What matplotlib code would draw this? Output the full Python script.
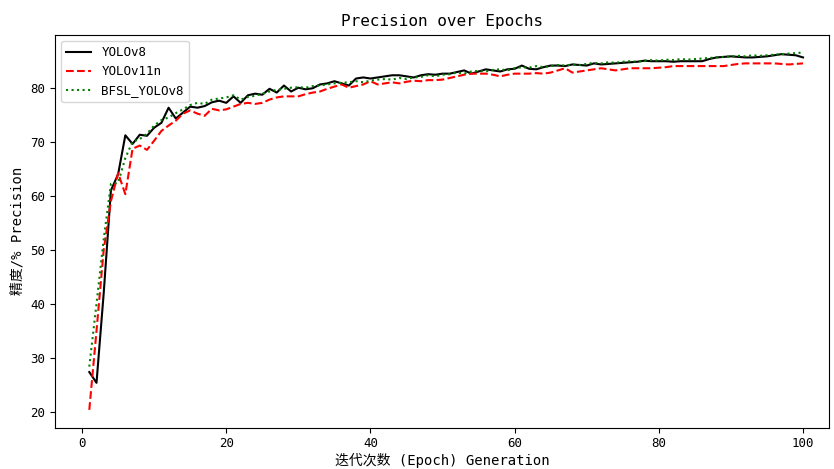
import matplotlib
matplotlib.use("Agg")
import matplotlib.pyplot as plt

epochs = list(range(1, 101))

yolov8 = [
    27.4, 25.4, 42.0, 61.0, 64.0, 71.2, 69.6, 71.3, 71.1, 72.6,
    73.5, 76.3, 74.3, 75.4, 76.5, 76.3, 76.6, 77.3, 77.6, 77.2,
    78.4, 77.2, 78.6, 78.9, 78.7, 79.8, 79.1, 80.4, 79.3, 80.0,
    79.7, 79.9, 80.6, 80.8, 81.2, 80.8, 80.4, 81.7, 81.9, 81.7,
    81.9, 82.1, 82.3, 82.3, 82.1, 81.9, 82.3, 82.5, 82.4, 82.6,
    82.6, 82.9, 83.2, 82.6, 83.0, 83.4, 83.2, 83.0, 83.4, 83.5,
    84.1, 83.5, 83.4, 83.8, 84.1, 84.1, 84.0, 84.3, 84.2, 84.1,
    84.5, 84.3, 84.4, 84.5, 84.6, 84.7, 84.8, 85.0, 84.9, 84.9,
    84.9, 84.8, 84.9, 84.9, 84.9, 84.9, 85.3, 85.6, 85.7, 85.8,
    85.7, 85.6, 85.6, 85.7, 85.8, 86.0, 86.2, 86.1, 86.0, 85.6,
]

yolov11n = [
    20.4, 35.0, 50.0, 59.0, 64.2, 60.3, 68.7, 69.3, 68.5, 70.2,
    72.0, 73.0, 73.9, 75.2, 75.8, 75.2, 74.8, 76.1, 75.8, 76.0,
    76.5, 77.0, 77.2, 77.0, 77.2, 77.8, 78.2, 78.4, 78.4, 78.4,
    78.8, 79.1, 79.3, 79.8, 80.2, 80.6, 80.0, 80.3, 80.6, 81.2,
    80.6, 80.8, 81.0, 80.8, 81.1, 81.3, 81.2, 81.4, 81.4, 81.5,
    81.8, 82.1, 82.4, 82.6, 82.6, 82.6, 82.4, 82.1, 82.4, 82.6,
    82.6, 82.6, 82.7, 82.6, 82.8, 83.2, 83.6, 82.8, 83.0, 83.2,
    83.4, 83.6, 83.4, 83.2, 83.4, 83.6, 83.6, 83.6, 83.6, 83.7,
    83.8, 84.0, 84.0, 84.0, 84.0, 84.0, 84.0, 84.0, 84.0, 84.2,
    84.4, 84.5, 84.5, 84.5, 84.5, 84.5, 84.4, 84.3, 84.4, 84.5,
]

bfsl_yolov8 = [
    28.4, 40.0, 52.0, 62.2, 62.4, 67.0, 70.0, 70.5, 71.5, 73.0,
    74.0, 74.5, 75.3, 76.0, 76.8, 77.2, 77.0, 77.8, 78.0, 78.2,
    78.6, 77.8, 78.3, 78.5, 78.9, 79.3, 79.6, 79.8, 80.0, 80.1,
    80.0, 80.3, 80.4, 80.6, 80.8, 80.9, 81.0, 81.2, 81.0, 81.3,
    81.5, 81.6, 81.5, 81.8, 81.6, 81.9, 82.0, 82.3, 82.1, 82.4,
    82.5, 82.8, 82.6, 83.0, 83.1, 83.0, 83.3, 83.4, 83.2, 83.6,
    83.8, 83.7, 84.0, 83.8, 84.0, 84.2, 84.1, 84.3, 84.2, 84.4,
    84.6, 84.5, 84.7, 84.6, 84.8, 84.9, 84.8, 85.0, 85.1, 85.0,
    85.2, 85.1, 85.3, 85.2, 85.3, 85.4, 85.5, 85.6, 85.7, 85.8,
    85.9, 85.8, 86.0, 85.9, 86.0, 86.1, 86.2, 86.3, 86.4, 86.5,
]

plt.rcParams["font.family"] = ["DejaVu Sans Mono", "Noto Sans CJK SC"]
plt.rcParams["axes.unicode_minus"] = False

fig = plt.figure(figsize=(8.34, 4.69), dpi=100)
ax = fig.add_axes([0.066, 0.088, 0.928, 0.838])

ax.plot(epochs, yolov8, color="black", linestyle="-", linewidth=1.5, label="YOLOv8")
ax.plot(epochs, yolov11n, color="red", linestyle="--", linewidth=1.5, label="YOLOv11n")
ax.plot(epochs, bfsl_yolov8, color="green", linestyle=":", linewidth=1.5, label="BFSL_YOLOv8")

ax.set_xlim(-3.75, 103.6)
ax.set_title("Precision over Epochs", fontsize=11.5)
ax.set_xlabel("迭代次数 (Epoch) Generation", fontsize=10, labelpad=2)
ax.set_ylabel("精度/% Precision", fontsize=10)
ax.set_xticks([0, 20, 40, 60, 80, 100])
ax.set_yticks([20, 30, 40, 50, 60, 70, 80])
ax.tick_params(labelsize=9)
ax.legend(loc="upper left", fontsize=9)

fig.savefig("out.png", dpi=100)
plt.close(fig)
